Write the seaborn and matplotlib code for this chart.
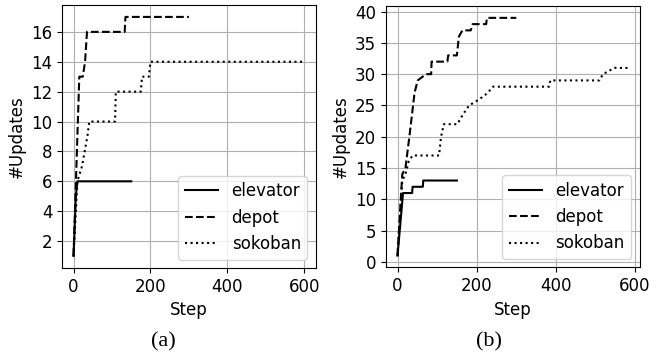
import numpy as np
import pandas as pd
import seaborn as sns
import matplotlib.pyplot as plt

plt.rcParams['font.family'] = ['DejaVu Sans']

# (a) updates per step
elev_a_x = [0, 6, 10, 150]
elev_a_y = [1, 5, 6, 6]
depot_a_x = [0, 15, 24, 30, 35, 133, 135, 300]
depot_a_y = [1, 13, 13, 14, 16, 16, 17, 17]
sok_a_x = [0, 10, 22, 36, 41, 108, 110, 175, 178, 196, 200, 600]
sok_a_y = [1, 6, 7, 9, 10, 10, 12, 12, 13, 13, 14, 14]

# (b)
elev_b_x = [0, 14, 37, 38, 64, 65, 150]
elev_b_y = [1, 11, 11, 12, 12, 13, 13]
depot_b_x = [0, 12, 20, 30, 43, 51, 72, 85, 86, 126, 128, 150, 155, 164, 185, 190, 224, 226, 300]
depot_b_y = [1, 14, 15, 20, 27, 29, 30, 30, 32, 32, 33, 33, 36, 37, 37, 38, 38, 39, 39]
sok_b_x = [0, 12, 20, 28, 38, 105, 110, 117, 151, 160, 170, 181, 207, 228, 241, 383, 386, 510, 519, 548, 583]
sok_b_y = [1, 13, 14, 16, 17, 17, 20, 22, 22, 23, 24, 25, 26, 27, 28, 28, 29, 29, 30, 31, 31]

labels = ['elevator', 'depot', 'sokoban']
styles = ['-', '--', ':']

fig = plt.figure(figsize=(6.68, 3.6), dpi=100)
ax1 = fig.add_axes([0.0928, 0.2556, 0.380, 0.7306])
ax2 = fig.add_axes([0.5778, 0.2570, 0.380, 0.7264])

panels = [
    (ax1, [(elev_a_x, elev_a_y), (depot_a_x, depot_a_y), (sok_a_x, sok_a_y)]),
    (ax2, [(elev_b_x, elev_b_y), (depot_b_x, depot_b_y), (sok_b_x, sok_b_y)]),
]

for ax, series in panels:
    for (xs, ys), lab, ls in zip(series, labels, styles):
        sns.lineplot(x=xs, y=ys, ax=ax, color='black', linestyle=ls, linewidth=1.5,
                     label=lab, estimator=None, sort=False)
    ax.grid(True, color='#b0b0b0', linewidth=0.8)
    ax.set_axisbelow(True)
    ax.set_xticks([0, 200, 400, 600])
    ax.tick_params(labelsize=12)
    ax.set_xlabel('Step', fontsize=12)
    ax.set_ylabel('#Updates', fontsize=12)
    ax.legend(loc='lower right', fontsize=12)

ax1.set_yticks([2, 4, 6, 8, 10, 12, 14, 16])
ax2.set_yticks([0, 5, 10, 15, 20, 25, 30, 35, 40])

fig.text(0.244, 0.051, '(a)', ha='center', va='center', fontsize=16, family='Liberation Serif')
fig.text(0.732, 0.051, '(b)', ha='center', va='center', fontsize=16, family='Liberation Serif')

fig.savefig('out.png', dpi=100)
